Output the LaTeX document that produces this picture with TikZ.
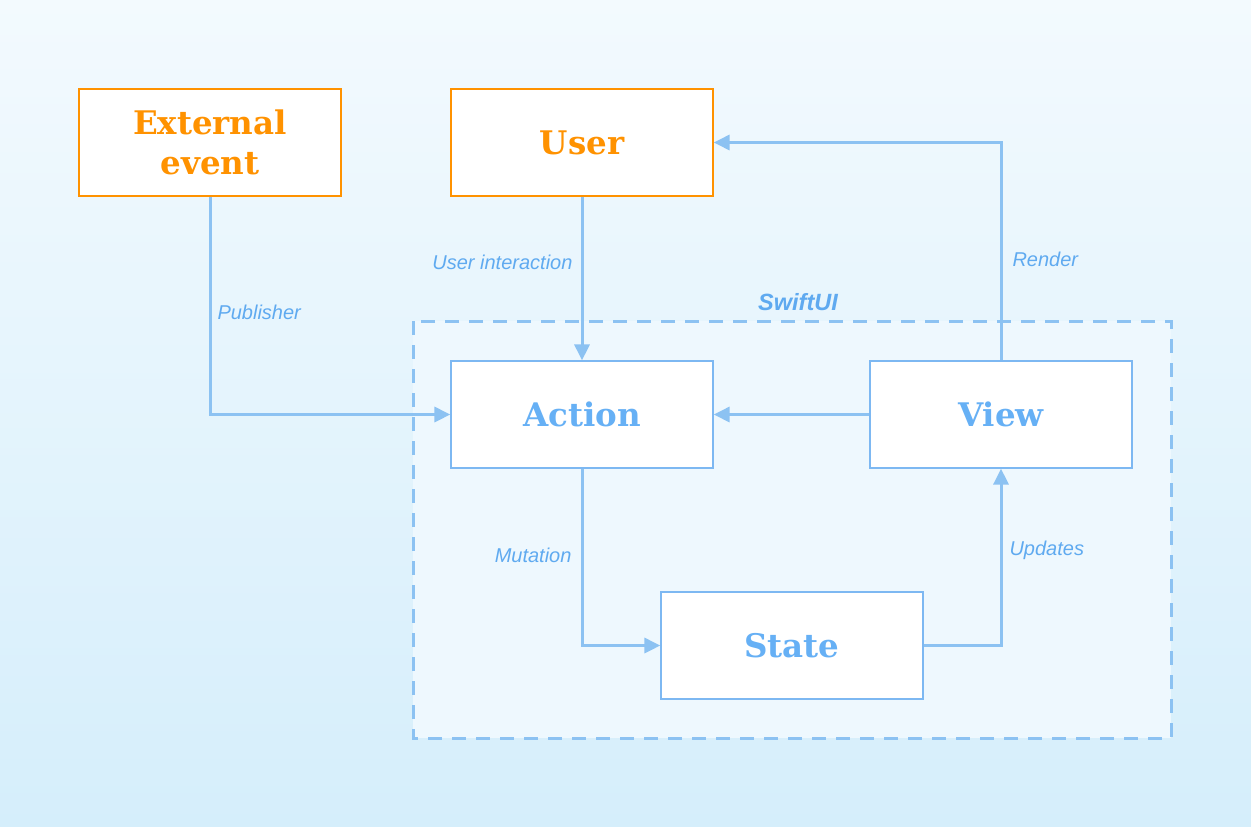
\documentclass[tikz,border=0pt]{standalone}
\usepackage{fontspec}
\setmainfont{DejaVu Serif}
\newfontfamily\lblfont{Liberation Sans}
\usetikzlibrary{arrows.meta,positioning}
\definecolor{bgtop}{HTML}{F3FAFE}
\definecolor{bgbot}{HTML}{D5EEFB}
\definecolor{innerfill}{HTML}{EEF8FE}
\definecolor{orangec}{HTML}{FF9200}
\definecolor{bluetxt}{HTML}{66B0F5}
\definecolor{bluebox}{HTML}{7DB8F2}
\definecolor{blueline}{HTML}{8CC2F2}
\definecolor{lbl}{HTML}{5FAAF0}
\tikzset{
  x=1pt, y=-1pt,
  boxnode/.style={draw=bluebox, line width=1.2pt, fill=white, minimum width=262pt, minimum height=107pt, inner sep=0pt,
    font=\fontsize{32.5}{40}\selectfont\bfseries, text=bluetxt, align=center},
  orangebox/.style={boxnode, draw=orangec, text=orangec},
  conn/.style={draw=blueline, line width=3pt, -{Triangle[length=16pt,width=15pt]}},
  lab/.style={font=\lblfont\fontsize{20}{22}\selectfont\itshape, text=lbl},
}
\begin{document}
\begin{tikzpicture}
\shade[top color=bgtop, bottom color=bgbot] (0,0) rectangle (1251,827);
\useasboundingbox (0,0) rectangle (1251,827);
\draw[draw=blueline, line width=3pt, dash pattern=on 14pt off 10pt, fill=innerfill] (413,321) rectangle (1171,738);
\node[lab, font=\lblfont\fontsize{23.5}{26}\selectfont\bfseries\itshape] (swift) at (798,302) {SwiftUI};

\node[orangebox] (ext) at (210,142.5) {External\\event};
\node[orangebox] (user) at (582,142.5) {User};
\node[boxnode] (action) at (582,414.5) {Action};
\node[boxnode] (view) at (1001,414.5) {View};
\node[boxnode] (state) at (792,645.5) {State};

\draw[conn] (ext.south) |- (action.west);
\draw[conn] (user.south) -- (action.north);
\draw[conn] (view.west) -- (action.east);
\draw[conn] (view.north) |- (user.east);
\draw[conn] (action.south) |- (state.west);
\draw[conn] (state.east) -| (view.south);

\node[lab, anchor=east] (l1) at (576,262) {User interaction};
\node[lab, anchor=west] (l2) at (214,312) {Publisher};
\node[lab, anchor=west] (l3) at (1009,259) {Render};
\node[lab, anchor=east] (l4) at (575,555) {Mutation};
\node[lab, anchor=west] (l5) at (1006,550) {Updates};
\end{tikzpicture}
\end{document}
